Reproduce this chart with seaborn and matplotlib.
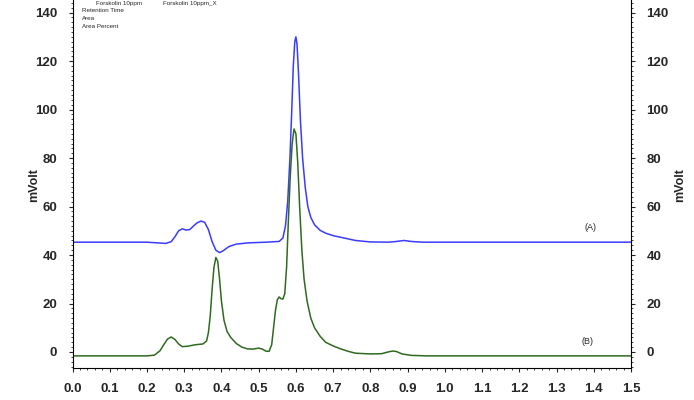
import numpy as np
import pandas as pd
import matplotlib
matplotlib.use("Agg")
import matplotlib.pyplot as plt
import seaborn as sns
from matplotlib.ticker import MultipleLocator

# Хроматограмма (A) - синяя
time_a = [0.00, 0.20, 0.23, 0.25, 0.265, 0.275, 0.285, 0.295, 0.305, 0.315,
          0.325, 0.335, 0.345, 0.355, 0.365, 0.375, 0.385, 0.395, 0.405, 0.42,
          0.44, 0.47, 0.52, 0.555, 0.565, 0.572, 0.578, 0.584, 0.589, 0.593,
          0.597, 0.600, 0.603, 0.607, 0.612, 0.618, 0.625, 0.632, 0.640, 0.650,
          0.665, 0.680, 0.700, 0.730, 0.760, 0.800, 0.850, 0.870, 0.890, 0.910,
          0.940, 1.50]
mvolt_a = [45.3, 45.3, 45.0, 44.8, 45.5, 47.5, 50.0, 50.8, 50.3, 50.5,
           52.0, 53.3, 54.0, 53.5, 50.5, 45.5, 42.0, 41.0, 41.8, 43.5,
           44.5, 45.0, 45.3, 45.6, 47.0, 52.0, 62.0, 80.0, 100.0, 118.0,
           128.0, 130.0, 127.0, 115.0, 96.0, 80.0, 68.0, 60.0, 55.5, 52.5,
           50.2, 49.0, 48.0, 47.0, 46.0, 45.4, 45.3, 45.6, 46.0, 45.6,
           45.3, 45.3]

# Хроматограмма (B) - зелёная
time_b = [0.00, 0.20, 0.22, 0.235, 0.245, 0.255, 0.265, 0.275, 0.285, 0.295,
          0.31, 0.33, 0.35, 0.36, 0.365, 0.37, 0.375, 0.38, 0.385, 0.39,
          0.395, 0.40, 0.407, 0.415, 0.425, 0.44, 0.455, 0.47, 0.485, 0.50,
          0.51, 0.52, 0.528, 0.535, 0.54, 0.545, 0.55, 0.555, 0.56, 0.565,
          0.57, 0.575, 0.58, 0.585, 0.59, 0.595, 0.600, 0.605, 0.61, 0.616,
          0.622, 0.63, 0.64, 0.65, 0.665, 0.68, 0.70, 0.72, 0.74, 0.76,
          0.80, 0.83, 0.85, 0.86, 0.87, 0.885, 0.91, 0.95, 1.50]
mvolt_b = [-1.6, -1.6, -1.3, 0.5, 3.0, 5.3, 6.2, 5.2, 3.3, 2.2,
           2.4, 3.0, 3.3, 4.5, 8.0, 15.0, 26.0, 35.0, 39.0, 37.5,
           30.0, 21.0, 13.0, 8.5, 6.0, 3.5, 2.0, 1.3, 1.2, 1.6,
           1.2, 0.3, 0.3, 3.0, 10.0, 17.0, 21.5, 22.7, 22.0, 21.8,
           24.0, 35.0, 55.0, 73.0, 86.0, 92.0, 90.0, 78.0, 60.0, 42.0,
           30.0, 21.0, 14.0, 10.0, 6.5, 4.0, 2.5, 1.3, 0.3, -0.5,
           -0.8, -0.7, 0.1, 0.4, 0.2, -0.8, -1.4, -1.6, -1.6]

x_ticks = [0.0, 0.1, 0.2, 0.3, 0.4, 0.5, 0.6, 0.7, 0.8, 0.9, 1.0, 1.1, 1.2, 1.3, 1.4, 1.5]
y_ticks = [0, 20, 40, 60, 80, 100, 120, 140]

df_a = pd.DataFrame({'time': time_a, 'mvolt': mvolt_a})
df_b = pd.DataFrame({'time': time_b, 'mvolt': mvolt_b})

sns.set_style("ticks")
plt.rcParams['font.family'] = ['Liberation Sans Narrow', 'Liberation Sans', 'DejaVu Sans']

fig = plt.figure(figsize=(6.94, 4.0), dpi=100)
ax = fig.add_axes([72.5 / 694, 1 - 368 / 400, (631 - 72.5) / 694, 368 / 400])

sns.lineplot(data=df_a, x='time', y='mvolt', ax=ax, color='#3b3bff', linewidth=1.1)
sns.lineplot(data=df_b, x='time', y='mvolt', ax=ax, color='#2f6a1f', linewidth=1.1)

ax.set_xlim(0, 1.5)
ax.set_ylim(-6.6, 145.2)
ax.set_xticks(x_ticks)
ax.set_xticklabels([f"{t:.1f}" for t in x_ticks])
ax.set_yticks(y_ticks)
ax.xaxis.set_minor_locator(MultipleLocator(0.02))
ax.yaxis.set_minor_locator(MultipleLocator(2))
ax.spines['top'].set_visible(False)
ax.spines['right'].set_visible(True)
for s in ax.spines.values():
    s.set_linewidth(0.8)
    s.set_color('black')

ax.tick_params(axis='both', which='major', length=3, width=0.8, labelsize=9.5, pad=8)
ax.tick_params(axis='both', which='minor', length=1.5, width=0.6)
ax.tick_params(axis='y', right=True, which='both')
ax.tick_params(axis='y', labelright=True)
for lbl in ax.get_xticklabels() + ax.get_yticklabels():
    lbl.set_fontweight('bold')
ax.set_xlabel('')
ax.set_ylabel('')

# Подписи оси Y слева и справа
fig.text(34 / 694, 1 - 185 / 400, 'mVolt', rotation=90, fontsize=9, fontweight='bold',
         ha='center', va='center')
fig.text(680 / 694, 1 - 185 / 400, 'mVolt', rotation=90, fontsize=9, fontweight='bold',
         ha='center', va='center')

# Подписи кривых
ax.text(1.39, 51.5, '(A)', fontsize=6.5, ha='center', va='center', family=['Liberation Sans', 'DejaVu Sans'])
ax.text(1.383, 4.5, '(B)', fontsize=6.5, ha='center', va='center', family=['Liberation Sans', 'DejaVu Sans'])

# Шапка отчёта
for txt, xp, yp in [('Forskolin 10ppm', 96, 3), ('Forskolin 10ppm_X', 163, 3),
                    ('Retention Time', 82, 11), ('Area', 82, 19), ('Area Percent', 82, 27)]:
    fig.text(xp / 694, 1 - yp / 400, txt, fontsize=4.5, ha='left', va='center',
             family=['Liberation Sans', 'DejaVu Sans'])

fig.savefig('out.png', dpi=100)
